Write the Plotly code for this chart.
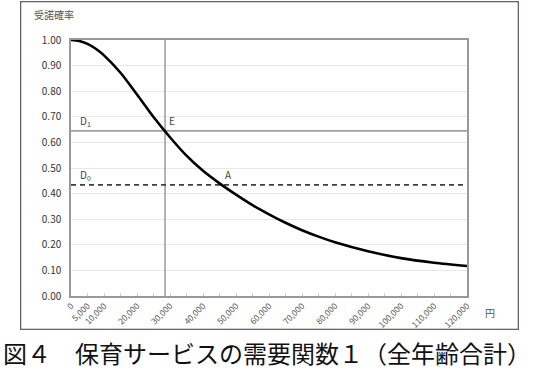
import plotly.graph_objects as go

# Data
price = [0, 2500, 5000, 7500, 10000, 15000, 20000, 25000, 30000, 35000, 40000, 45000,
         50000, 55000, 60000, 65000, 70000, 75000, 80000, 90000, 100000, 110000, 120000]
prob = [1.000, 0.996, 0.985, 0.966, 0.940, 0.872, 0.787, 0.699, 0.620, 0.548, 0.489,
        0.440, 0.396, 0.355, 0.319, 0.286, 0.257, 0.232, 0.210, 0.175, 0.148, 0.130,
        0.117]

d1_level = 0.645
d0_level = 0.434
e_price = 28500
a_price = 45400

x_tickvals = [0, 5000, 10000, 20000, 30000, 40000, 50000, 60000, 70000,
              80000, 90000, 100000, 110000, 120000]
y_tickvals = [0, 0.1, 0.2, 0.3, 0.4, 0.5, 0.6, 0.7, 0.8, 0.9, 1.0]
x_ticktext = [f"{v:,}" for v in x_tickvals]

FONT = "Noto Sans CJK JP"

fig = go.Figure()

# D1 horizontal line
fig.add_trace(go.Scatter(x=[0, 120000], y=[d1_level, d1_level], mode="lines",
                         line=dict(color="#a0a0a0", width=1.6), hoverinfo="skip"))
# Vertical line through E
fig.add_trace(go.Scatter(x=[e_price, e_price], y=[0, 1], mode="lines",
                         line=dict(color="#a0a0a0", width=1.6), hoverinfo="skip"))
# D0 dashed line
fig.add_trace(go.Scatter(x=[0, 120000], y=[d0_level, d0_level], mode="lines",
                         line=dict(color="#404040", width=1.6, dash="5px,4px"),
                         hoverinfo="skip"))
# Demand curve
fig.add_trace(go.Scatter(x=price, y=prob, mode="lines",
                         line=dict(color="#000000", width=2.6, shape="spline",
                                   smoothing=0.8),
                         hoverinfo="skip"))

lab_font = dict(family=FONT, size=10, color="#444444")
fig.add_annotation(x=2000, y=d1_level, text="D<sub>1</sub>", showarrow=False,
                   xanchor="left", yanchor="bottom", font=lab_font, yshift=0)
fig.add_annotation(x=e_price + 700, y=d1_level, text="E", showarrow=False,
                   xanchor="left", yanchor="bottom", font=lab_font, yshift=1)
fig.add_annotation(x=2000, y=d0_level, text="D<sub>0</sub>", showarrow=False,
                   xanchor="left", yanchor="bottom", font=lab_font, yshift=0)
fig.add_annotation(x=a_price + 700, y=d0_level, text="A", showarrow=False,
                   xanchor="left", yanchor="bottom", font=lab_font, yshift=1)

# Axis titles
fig.add_annotation(xref="paper", yref="paper", x=-0.098, y=1.098, text="受諾確率",
                   showarrow=False, xanchor="left", yanchor="middle",
                   font=dict(family=FONT, size=10, color="#555555"))
fig.add_annotation(xref="paper", yref="paper", x=1.058, y=-0.066, text="円",
                   showarrow=False, xanchor="center", yanchor="middle",
                   font=dict(family=FONT, size=10, color="#555555"))
# Figure caption
fig.add_annotation(xref="paper", yref="paper", x=0.496, y=-0.222,
                   text="図４　保育サービスの需要関数１（全年齢合計）",
                   showarrow=False, xanchor="center", yanchor="middle",
                   font=dict(family=FONT, size=24, color="#111111"))

# Outer frame (empty bordered annotation box)
fig.add_annotation(xref="paper", yref="paper", x=0.5, y=0.508, text=" ",
                   showarrow=False, xanchor="center", yanchor="middle",
                   width=496, height=326, borderpad=0, borderwidth=1.3,
                   bordercolor="#6a6262", bgcolor="rgba(0,0,0,0)",
                   font=dict(size=1))

fig.update_layout(
    width=534, height=371, autosize=False,
    margin=dict(l=71, r=67, t=40, b=75),
    paper_bgcolor="white", plot_bgcolor="white",
    showlegend=False,
    font=dict(family=FONT),
)
fig.update_xaxes(range=[0, 120000], tickvals=x_tickvals, ticktext=x_ticktext,
                 tickangle=-45, tickfont=dict(family=FONT, size=8.5, color="#555555"),
                 showgrid=False, zeroline=False, showline=True, linecolor="#999999",
                 linewidth=1.5, mirror=True, ticks="inside", ticklen=3,
                 tickcolor="#cccccc", automargin=False,
                 minor=dict(tick0=0, dtick=5000, ticks="inside", ticklen=3,
                            tickcolor="#cccccc", showgrid=False))
fig.update_yaxes(range=[0, 1], tickvals=y_tickvals, tickformat=".2f",
                 tickfont=dict(family=FONT, size=10, color="#333333"),
                 showgrid=True, gridcolor="#e8e8e8", gridwidth=1.3,
                 zeroline=False, showline=True, linecolor="#999999", linewidth=1.5,
                 mirror=True, ticks="", ticklabelstandoff=6, automargin=False)

fig.write_html("out.html", config={"displayModeBar": False},
               post_script="document.body.style.margin='0';document.body.style.overflow='hidden';")
